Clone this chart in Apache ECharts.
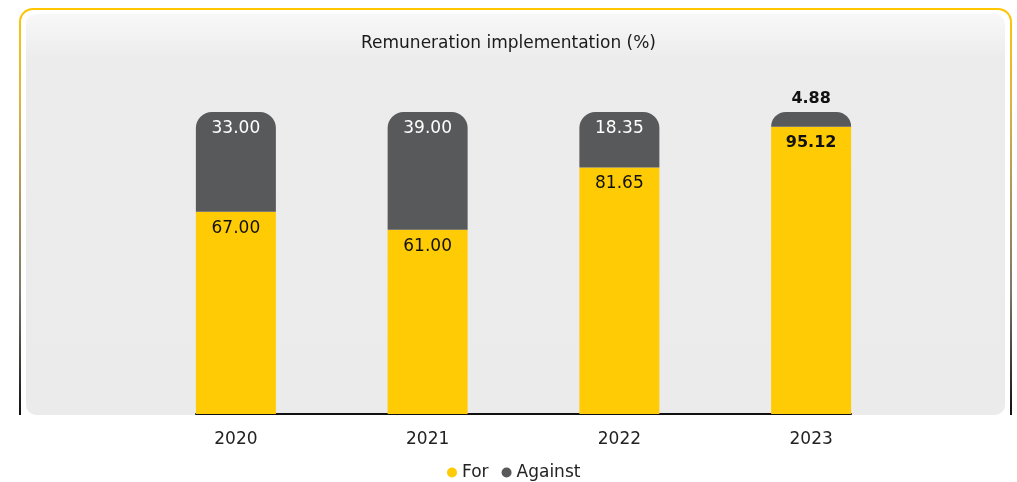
<!DOCTYPE html>
<html>
<head>
<meta charset="utf-8">
<script src="https://cdn.jsdelivr.net/npm/echarts@6/dist/echarts.min.js"></script>
<style>
  html, body { margin: 0; padding: 0; background: #ffffff; }
  #wrap { position: relative; width: 1017px; height: 482px; overflow: hidden; }
  .card {
    position: absolute; left: 19px; top: 8px; width: 993px; height: 407px;
    box-sizing: border-box; padding: 2px 2px 0 2px;
    border-radius: 14px 14px 0 0;
    background: linear-gradient(to bottom, #ffc600 0%, #d8b248 25%, #7a776c 70%, #111111 100%);
  }
  .card-mid {
    width: 100%; height: 100%; box-sizing: border-box; padding: 4px 5px 0 5px;
    background: #ffffff; border-radius: 12px 12px 0 0;
  }
  .card-in {
    width: 100%; height: 100%;
    border-radius: 10px;
    background: linear-gradient(to bottom, #f8f8f8 0px, #ececec 45px, #ebebeb 100%);
  }
  #chart { position: absolute; left: 0; top: 0; width: 1017px; height: 482px; }
</style>
</head>
<body>
<div id="wrap">
  <div class="card"><div class="card-mid"><div class="card-in"></div></div></div>
  <div id="chart"></div>
</div>
<script>
// Vote results on the remuneration implementation report, in percent
const years = ['2020', '2021', '2022', '2023'];
const forVotes = [67.00, 61.00, 81.65, 95.12];
const againstVotes = [33.00, 39.00, 18.35, 4.88];
const yTicks = [0, 100];

const FONT = '"DejaVu Sans", "Noto Sans", sans-serif';
const YELLOW = '#ffcb05';
const GREY = '#58595b';
const last = years.length - 1;

// Segments too thin to hold their label get it written above the bar
const MIN_INSIDE = 10;

const forData = forVotes.map((v, i) => ({
  value: v,
  label: i === last ? { fontWeight: 'bold', fontSize: 16 } : { fontWeight: 'normal', fontSize: 17 }
}));

const againstData = againstVotes.map((v, i) => {
  const outside = v < MIN_INSIDE;
  return {
    value: v,
    label: outside
      ? { position: 'top', color: '#111111', fontWeight: 'bold', fontSize: 16, distance: 5 }
      : { position: 'insideTop', color: '#ffffff', fontWeight: 'normal', fontSize: 17, distance: 8 }
  };
});

const chart = echarts.init(document.getElementById('chart'), null, { renderer: 'canvas' });

chart.setOption({
  backgroundColor: 'transparent',
  animation: false,
  title: {
    text: 'Remuneration implementation (%)',
    left: 'center',
    top: 30,
    textStyle: { fontFamily: FONT, fontSize: 17, fontWeight: 'normal', color: '#1a1a1a' }
  },
  legend: {
    data: ['For', 'Against'],
    left: 442,
    top: 459,
    icon: 'circle',
    itemWidth: 10,
    itemHeight: 10,
    itemGap: 13,
    textStyle: { fontFamily: FONT, fontSize: 17, color: '#222222' }
  },
  grid: [
    { left: 140, right: 110, top: 112, bottom: 68 },
    { left: 196, right: 166, top: 112, bottom: 68 }
  ],
  xAxis: [
    {
      type: 'category',
      gridIndex: 0,
      data: years,
      axisLine: { show: false },
      axisTick: { show: false },
      axisLabel: { margin: 17, fontFamily: FONT, fontSize: 17, color: '#222222' }
    },
    {
      type: 'value',
      gridIndex: 1,
      min: 0,
      max: 1,
      axisLine: { show: true, lineStyle: { color: '#111111', width: 2 } },
      axisTick: { show: false },
      axisLabel: { show: false },
      splitLine: { show: false }
    }
  ],
  yAxis: [
    {
      type: 'value',
      gridIndex: 0,
      min: yTicks[0],
      max: yTicks[yTicks.length - 1],
      show: false
    },
    { type: 'value', gridIndex: 1, show: false }
  ],
  series: [
    {
      name: 'For',
      type: 'bar',
      stack: 'votes',
      barWidth: 80,
      data: forData,
      itemStyle: { color: YELLOW },
      label: {
        show: true,
        position: 'insideTop',
        distance: 8,
        formatter: p => p.value.toFixed(2),
        fontFamily: FONT,
        color: '#111111'
      }
    },
    {
      name: 'Against',
      type: 'bar',
      stack: 'votes',
      barWidth: 80,
      data: againstData,
      itemStyle: { color: GREY, borderRadius: [16, 16, 0, 0] },
      label: {
        show: true,
        formatter: p => p.value.toFixed(2),
        fontFamily: FONT
      }
    }
  ]
});
</script>
</body>
</html>
